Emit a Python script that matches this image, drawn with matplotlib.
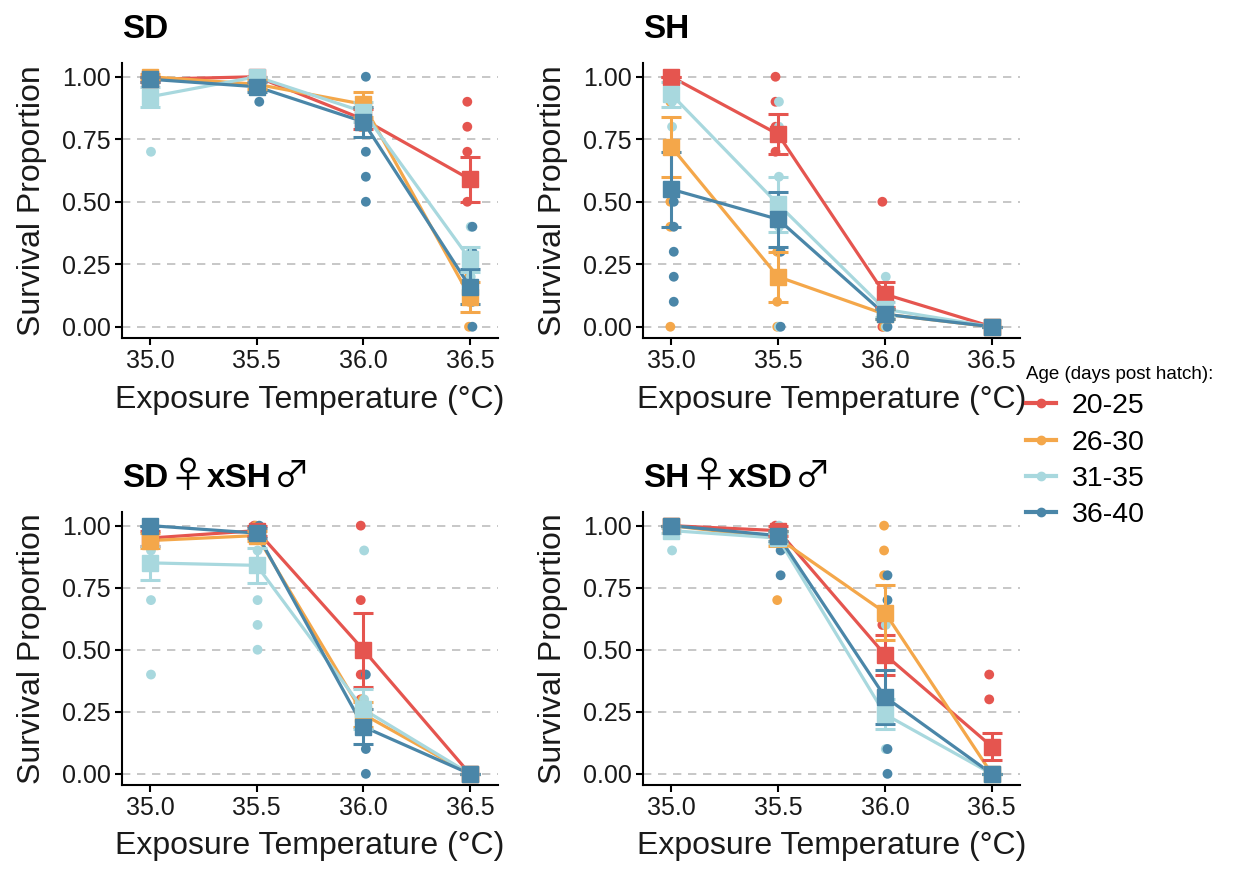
import matplotlib
matplotlib.use("Agg")
import matplotlib.pyplot as plt
from matplotlib.lines import Line2D
import numpy as np

plt.rcParams['font.family'] = ['Liberation Sans', 'DejaVu Sans']

temps = [35.0, 35.5, 36.0, 36.5]
ages = ['20-25', '26-30', '31-35', '36-40']
colors = ['#E5554F', '#F4A74A', '#A8D8DE', '#4A86A8']
# titles split into (text, is_symbol) pieces so the sex signs can use a thin font
titles = [[('SD', False)], [('SH', False)],
          [('SD', False), ('\u2640', True), ('xSH', False), ('\u2642', True)],
          [('SH', False), ('\u2640', True), ('xSD', False), ('\u2642', True)]]

# mean survival, one row per age group
sd_mean = [[0.99, 1.00, 0.83, 0.59],
           [1.00, 0.97, 0.89, 0.12],
           [0.92, 1.00, 0.86, 0.27],
           [0.99, 0.96, 0.82, 0.16]]
sd_se = [[0.01, 0.00, 0.04, 0.09],
         [0.01, 0.02, 0.05, 0.06],
         [0.04, 0.00, 0.04, 0.05],
         [0.01, 0.02, 0.06, 0.07]]
sd_pts = [[[1.0], [1.0], [0.8], [0.9, 0.8, 0.7, 0.5]],
          [[1.0], [1.0], [0.9, 0.8], [0.2, 0.1, 0.0]],
          [[0.9, 0.7], [1.0], [0.9, 0.8], [0.4, 0.3, 0.2]],
          [[1.0], [0.9], [1.0, 0.9, 0.8, 0.7, 0.6, 0.5], [0.4, 0.3, 0.1, 0.0]]]

sh_mean = [[1.00, 0.77, 0.13, 0.0],
           [0.72, 0.20, 0.05, 0.0],
           [0.93, 0.49, 0.07, 0.0],
           [0.55, 0.43, 0.05, 0.0]]
sh_se = [[0.00, 0.08, 0.05, 0.0],
         [0.12, 0.10, 0.02, 0.0],
         [0.05, 0.11, 0.03, 0.0],
         [0.15, 0.11, 0.02, 0.0]]
sh_pts = [[[1.0], [1.0, 0.9, 0.8, 0.7], [0.5, 0.1, 0.0], [0.0]],
          [[0.9, 0.5, 0.4, 0.0], [0.3, 0.1, 0.0], [0.1, 0.0], [0.0]],
          [[1.0, 0.9, 0.8], [0.9, 0.8, 0.6, 0.4, 0.0], [0.2, 0.0], [0.0]],
          [[0.5, 0.4, 0.3, 0.2, 0.1], [0.3, 0.0], [0.0], [0.0]]]

sdsh_mean = [[0.95, 0.98, 0.50, 0.0],
             [0.94, 0.96, 0.24, 0.0],
             [0.85, 0.84, 0.26, 0.0],
             [1.00, 0.97, 0.19, 0.0]]
sdsh_se = [[0.03, 0.02, 0.15, 0.0],
           [0.03, 0.02, 0.05, 0.0],
           [0.07, 0.07, 0.08, 0.0],
           [0.00, 0.02, 0.07, 0.0]]
sdsh_pts = [[[1.0], [1.0], [1.0, 0.7, 0.4, 0.3], [0.0]],
            [[1.0], [1.0], [0.3, 0.2], [0.0]],
            [[0.9, 0.7, 0.4], [0.9, 0.7, 0.6, 0.5], [0.9, 0.3, 0.2], [0.0]],
            [[1.0], [1.0], [0.4, 0.1, 0.0], [0.0]]]

shsd_mean = [[1.00, 0.98, 0.48, 0.11],
             [1.00, 0.95, 0.65, 0.00],
             [0.98, 0.95, 0.24, 0.00],
             [1.00, 0.96, 0.31, 0.00]]
shsd_se = [[0.00, 0.02, 0.08, 0.055],
           [0.00, 0.03, 0.11, 0.0],
           [0.01, 0.02, 0.06, 0.0],
           [0.00, 0.02, 0.11, 0.0]]
shsd_pts = [[[1.0], [1.0], [0.6], [0.4, 0.3]],
            [[1.0], [0.7], [1.0, 0.9, 0.8], [0.0]],
            [[0.9], [1.0], [0.6, 0.1], [0.0]],
            [[1.0], [0.9, 0.8], [0.8, 0.7, 0.1, 0.0], [0.0]]]

panels = [(sd_mean, sd_se, sd_pts), (sh_mean, sh_se, sh_pts),
          (sdsh_mean, sdsh_se, sdsh_pts), (shsd_mean, shsd_se, shsd_pts)]
jit = [-0.012, -0.004, 0.004, 0.012]

W, H = 1239, 869
fig = plt.figure(figsize=(W / 100, H / 100), dpi=100)
boxes = [(122, 338, 376, 275), (643, 338, 377, 275),
         (122, 785, 376, 273), (643, 785, 377, 273)]

for k, (means, ses, pts) in enumerate(panels):
    l, b, w, h = boxes[k]
    ax = fig.add_axes([l / W, 1 - b / H, w / W, h / H])
    for i in range(4):
        for j, t in enumerate(temps):
            p = pts[i][j]
            ax.scatter([t + jit[i]] * len(p), p, s=50, color=colors[i],
                       edgecolors='none', zorder=2)
    for i in range(4):
        ax.plot(temps, means[i], color=colors[i], lw=2.3, zorder=3 + i * 0.01)
    for i in range(4):
        ax.errorbar(temps, means[i], yerr=ses[i], fmt='none', ecolor=colors[i],
                    elinewidth=2.2, capsize=7.5, capthick=2.2, zorder=4 + i * 0.01)
    for i in range(4):
        ax.plot(temps, means[i], 's', color=colors[i], ms=12, zorder=5 + i * 0.01)

    ax.set_xlim(34.868, 36.632)
    ax.set_ylim(-0.045, 1.055)
    ax.set_xticks(temps)
    ax.set_xticklabels(['35.0', '35.5', '36.0', '36.5'])
    ax.set_yticks([0, 0.25, 0.5, 0.75, 1.0])
    ax.set_yticklabels(['0.00', '0.25', '0.50', '0.75', '1.00'])
    ax.yaxis.grid(True, linestyle=(0, (5, 4)), color='#BDBDBD', lw=1.2)
    ax.set_axisbelow(True)
    for s in ['top', 'right']:
        ax.spines[s].set_visible(False)
    for s in ['left', 'bottom']:
        ax.spines[s].set_linewidth(1.5)
    ax.tick_params(axis='both', labelsize=18, width=1.5, length=5, color='black',
                   labelcolor='#1a1a1a', pad=3)
    ax.set_xlabel('Exposure Temperature (\u00b0C)', fontsize=23, color='#1a1a1a')
    ax.set_ylabel('Survival Proportion', fontsize=23, color='#1a1a1a')
    ax.xaxis.set_label_coords(0.5, -0.17)
    ax.yaxis.set_label_coords(-0.2, 0.5)

    # title, built piece by piece on one baseline
    prev = None
    for txt, sym in titles[k]:
        if sym:
            kw = dict(fontsize=26, fontweight='normal',
                      family=['Noto Sans CJK JP', 'DejaVu Sans'])
        else:
            kw = dict(fontsize=24, fontweight='bold', family=['Liberation Sans', 'DejaVu Sans'])
        if prev is None:
            prev = ax.annotate(txt, xy=(0, 1), xycoords='axes fraction',
                               xytext=(0, 18), textcoords='offset points',
                               ha='left', va='baseline', **kw)
        else:
            prev = ax.annotate(txt, xy=(1, 1), xycoords=(prev, 'axes fraction'),
                               xytext=(1, 18), textcoords='offset points',
                               ha='left', va='baseline', **kw)

handles = [Line2D([0], [0], color=c, lw=3, marker='o', ms=6) for c in colors]
leg = fig.legend(handles, ages, loc='upper left', bbox_to_anchor=(1026 / W, 1 - 366 / H),
                 title='Age (days post hatch):', title_fontsize=13.5, fontsize=20.5,
                 frameon=False, handlelength=1.05, handletextpad=0.55,
                 labelspacing=0.36, alignment='left', borderpad=0, borderaxespad=0)

fig.savefig('out.png', dpi=100)
